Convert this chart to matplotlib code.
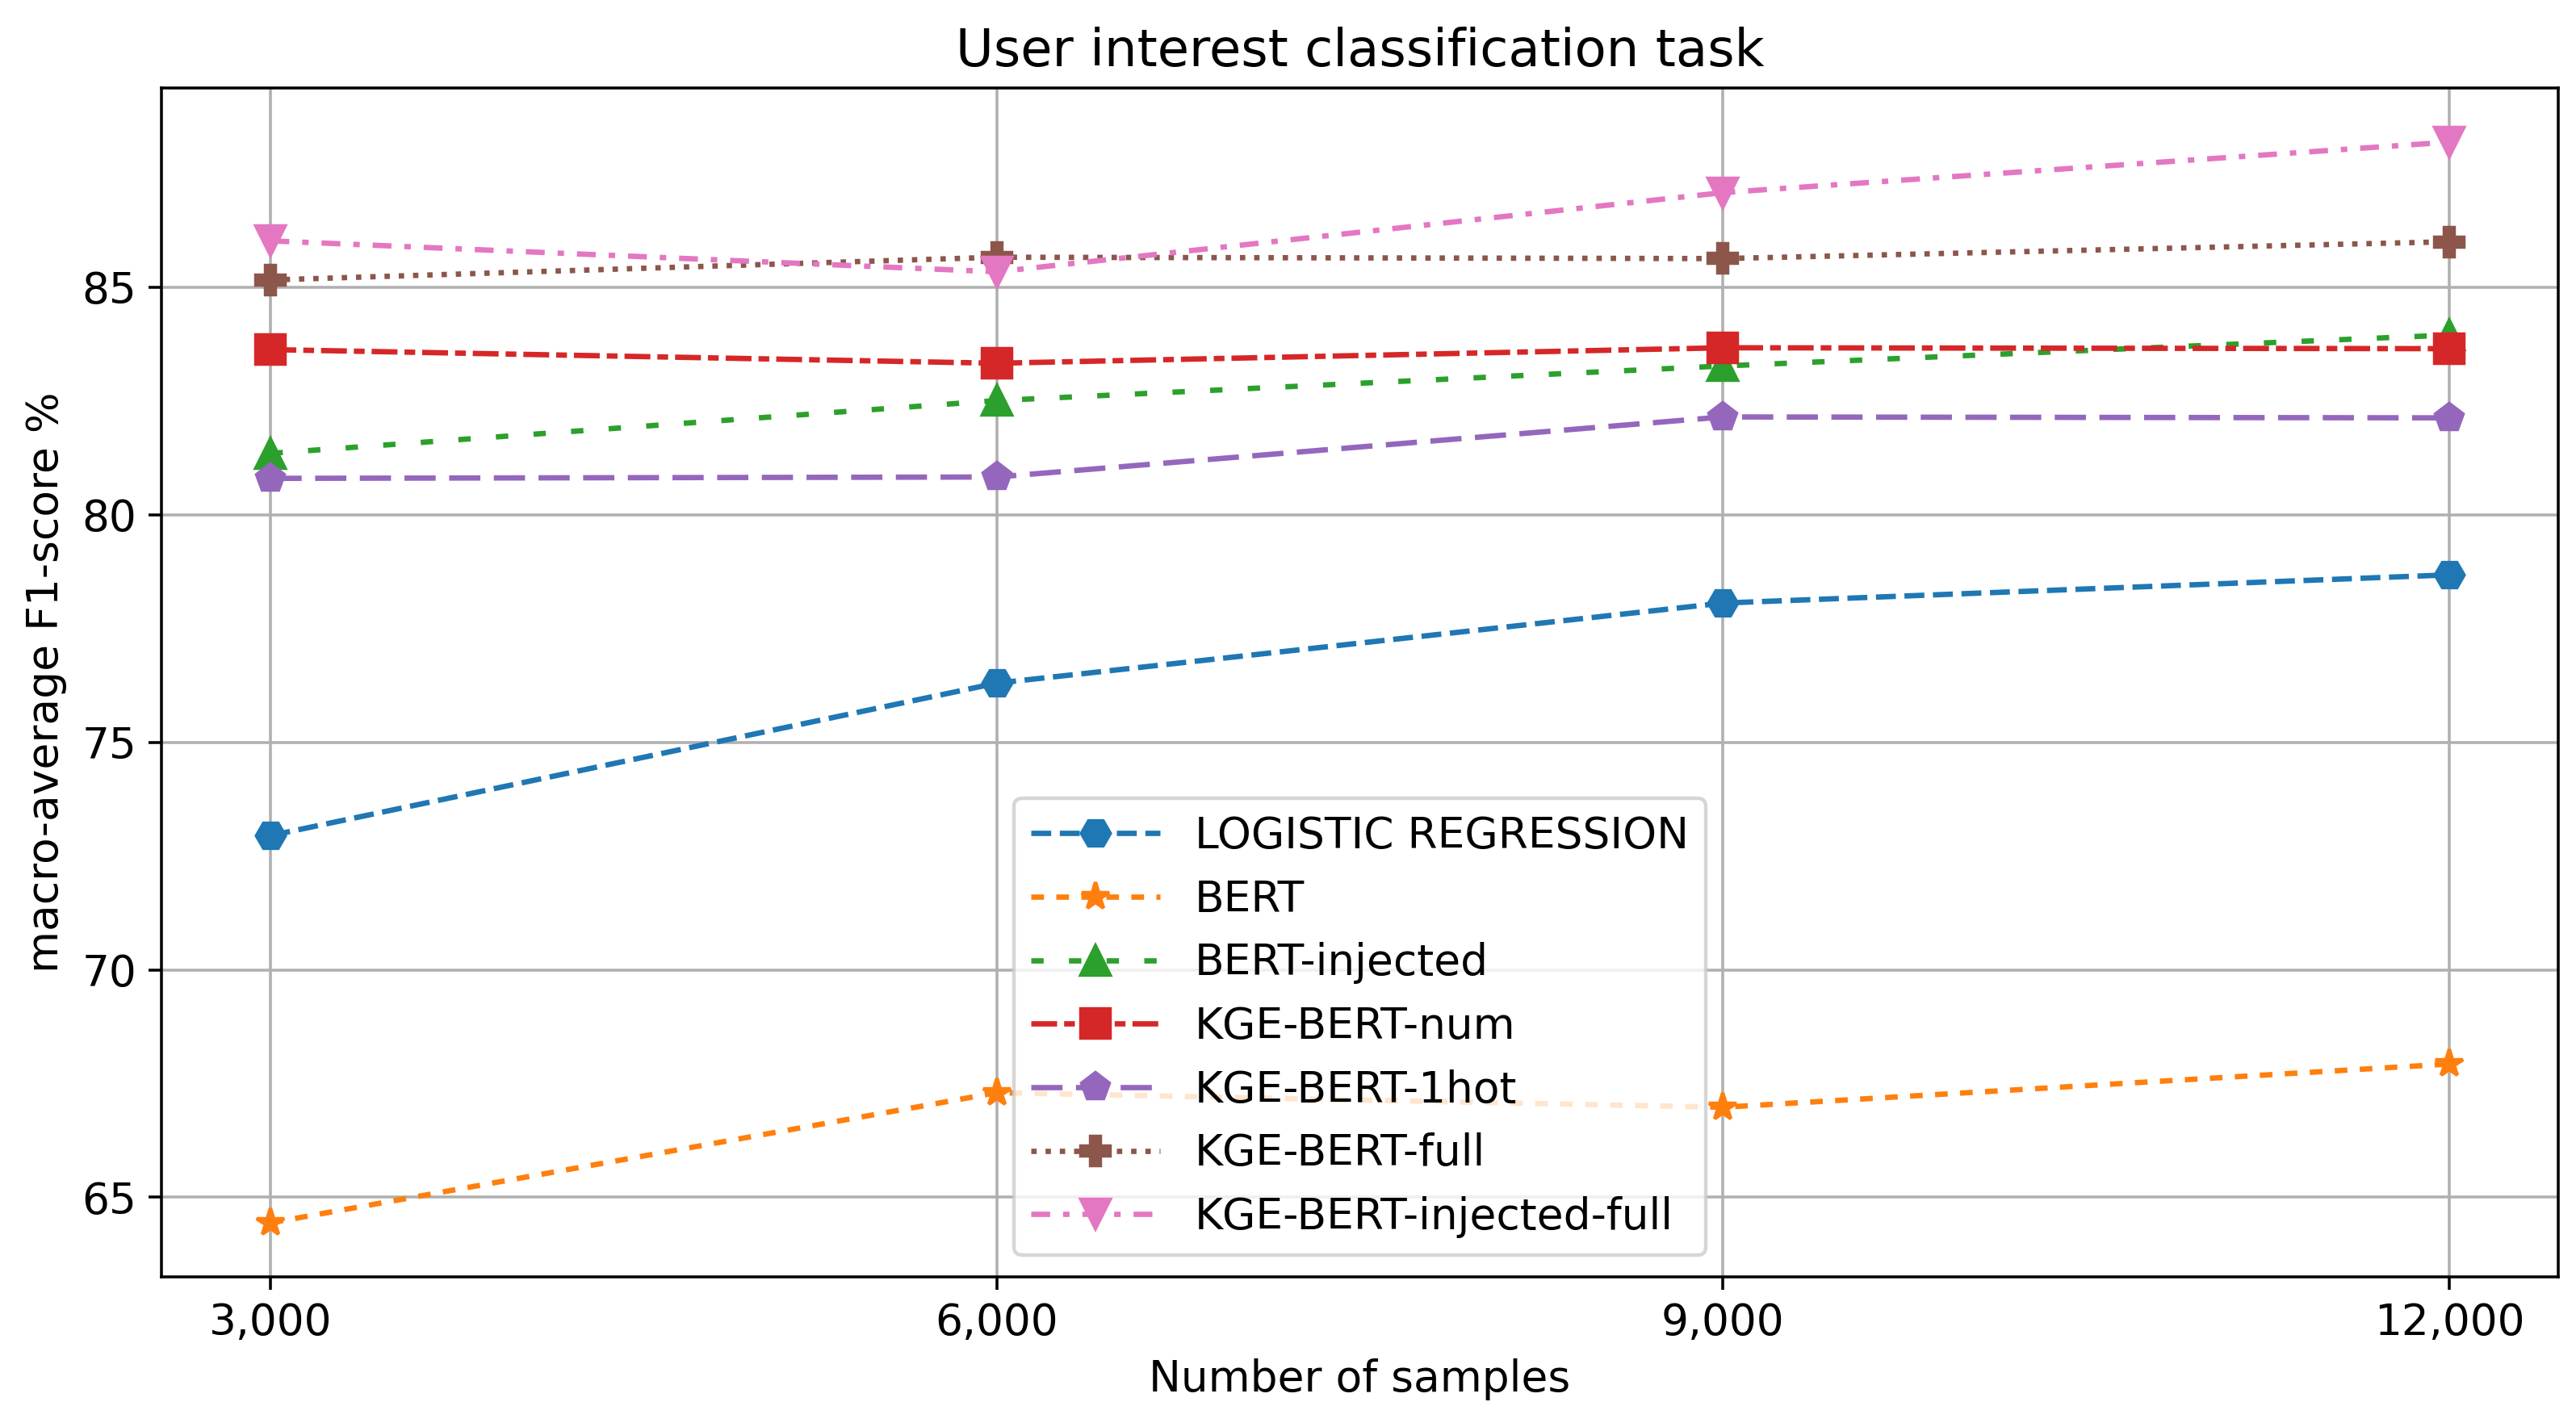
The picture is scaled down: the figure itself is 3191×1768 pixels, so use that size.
import numpy as np
import matplotlib
matplotlib.use("Agg")
import matplotlib.pyplot as plt
import matplotlib.ticker as mticker

# data
samples = [3000, 6000, 9000, 12000]
logistic = [72.95, 76.30, 78.06, 78.68]
bert = [64.44, 67.30, 66.98, 67.93]
bert_injected = [81.35, 82.51, 83.27, 83.95]
kge_num = [83.63, 83.33, 83.67, 83.65]
kge_1hot = [80.80, 80.83, 82.15, 82.13]
kge_full = [85.16, 85.66, 85.63, 86.00]
kge_injected_full = [86.02, 85.34, 87.08, 88.19]

# dash patterns (in units of line width) matched to the reference
series = [
    ("LOGISTIC REGRESSION", logistic, "H", "--"),
    ("BERT", bert, "*", (0, (2.35, 2.3))),
    ("BERT-injected", bert_injected, "^", (0, (2.3, 4.7))),
    ("KGE-BERT-num", kge_num, "s", (0, (4.8, 1.3, 2.0, 1.3))),
    ("KGE-BERT-1hot", kge_1hot, "p", (0, (5.8, 2.5))),
    ("KGE-BERT-full", kge_full, "P", ":"),
    ("KGE-BERT-injected-full", kge_injected_full, "v", (0, (3.5, 2.4, 1.2, 2.4))),
]

plt.rcParams["font.size"] = 12
dpi = 320
fig = plt.figure(figsize=(3191 / dpi, 1768 / dpi), dpi=dpi)
ax = fig.add_axes([0.0627, 0.1052, 0.9304, 0.8331])

for label, vals, marker, ls in series:
    ax.plot(samples, vals, marker=marker, linestyle=ls, markersize=8, label=label)

ax.set_xticks(samples)
ax.xaxis.set_major_formatter(mticker.FuncFormatter(lambda v, p: f"{int(v):,}"))
ax.grid(True)
ax.set_title("User interest classification task")
ax.set_xlabel("Number of samples")
ax.set_ylabel("macro-average F1-score %")
ax.legend(loc="lower center", handlelength=3)

fig.savefig("out.png", dpi=dpi)
